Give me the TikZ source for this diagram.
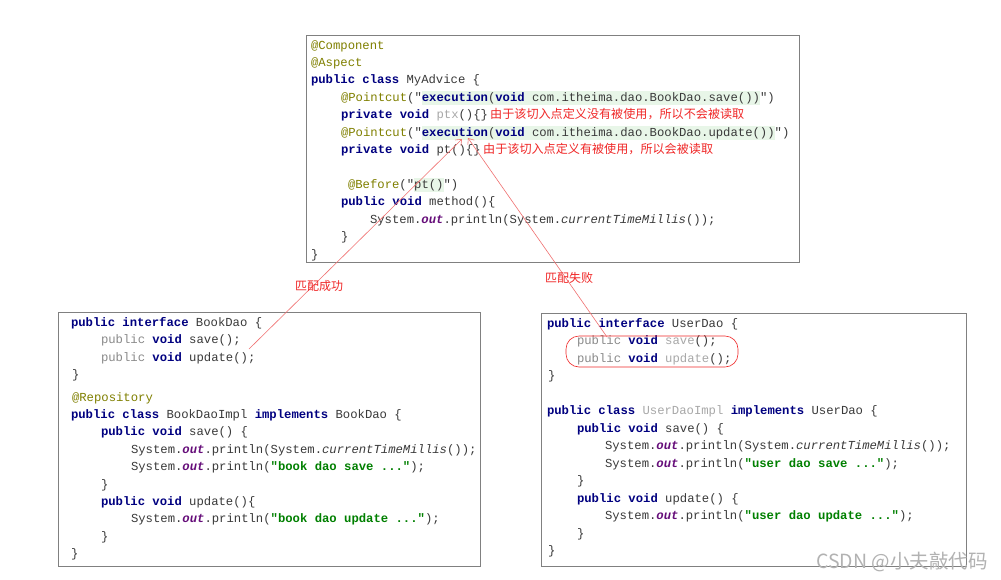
\documentclass[tikz,border=0pt]{standalone}
\usepackage{fontspec}
\usetikzlibrary{arrows.meta}
\newfontfamily\codefont[WordSpace={1,0,0}]{Liberation Mono}
\newfontfamily\cjk{Noto Sans CJK SC}
\definecolor{kwblue}{HTML}{000080}
\definecolor{annol}{HTML}{808000}
\definecolor{plain}{HTML}{3A3A3A}
\definecolor{modgray}{HTML}{8A8A8A}
\definecolor{unused}{HTML}{A8A8A8}
\definecolor{strgreen}{HTML}{008000}
\definecolor{outpurple}{HTML}{660E7A}
\definecolor{hlgreen}{HTML}{E8F6E8}
\definecolor{notered}{HTML}{F02828}
\definecolor{linered}{HTML}{F07070}
\definecolor{boxgray}{HTML}{808080}
\newcommand{\cdkw}[1]{{\bfseries\color{kwblue}#1}}
\newcommand{\cdann}[1]{{\color{annol}#1}}
\newcommand{\cdgr}[1]{{\color{modgray}#1}}
\newcommand{\cdun}[1]{{\color{unused}#1}}
\newcommand{\cdstr}[1]{{\bfseries\color{strgreen}#1}}
\newcommand{\cdout}{{\bfseries\itshape\color{outpurple}out}}
\newcommand{\cdtime}{System.\cdout.println(System.{\itshape currentTimeMillis}());}
\tikzset{
  code/.style={anchor=base west, inner sep=0pt, outer sep=0pt, text=plain,
    font=\codefont\fontsize{12.25}{17.4}\selectfont\frenchspacing},
  hl/.style={code, fill=hlgreen, text height=10pt, text depth=3.5pt},
  note/.style={anchor=base west, inner sep=0pt, text=notered, font=\cjk\fontsize{12.1}{14}\selectfont},
  lbl/.style={inner sep=0pt, text=notered, font=\cjk\fontsize{12}{14}\selectfont},
  codebox/.style={draw=boxgray, line width=0.9pt},
  conn/.style={draw=linered, line width=0.6pt, -{Straight Barb[length=5pt,width=8pt]}},
}
\begin{document}
\begin{tikzpicture}[x=1pt,y=-1pt]
\fill[white] (0,0) rectangle (1001,579);
\useasboundingbox (0,0) rectangle (1001,579);
% boxes
\draw[codebox] (306,35) rectangle (799,262);
\draw[codebox] (58,312) rectangle (480,566);
\draw[codebox] (541,313) rectangle (966,566);
% ---------------- top box
\node[code] (t0) at (311,49) {\cdann{@Component}};
\node[code] (t1) at (311,66.4) {\cdann{@Aspect}};
\node[code] (t2) at (311,83.9) {\cdkw{public class} MyAdvice \{};
\node[code] (t3a) at (341,101.3) {\cdann{@Pointcut}("};
\node[hl] (t3b) at (t3a.base east) {\cdkw{execution}(\cdkw{void} com.itheima.dao.BookDao.save())};
\node[code] (t3c) at (t3b.base east) {")};
\node[code] (t4) at (341,118.7) {\cdkw{private void} \cdun{ptx}()\{\}};
\node[note] (n1) at (490,118.7) {由于该切入点定义没有被使用，所以不会被读取};
\node[code] (t5a) at (341,136.2) {\cdann{@Pointcut}("};
\node[hl] (t5b) at (t5a.base east) {\cdkw{execution}(\cdkw{void} com.itheima.dao.BookDao.update())};
\node[code] (t5c) at (t5b.base east) {")};
\node[code] (t6) at (341,153.6) {\cdkw{private void} pt()\{\}};
\node[note] (n2) at (483,153.6) {由于该切入点定义有被使用，所以会被读取};
\node[code] (t8a) at (348,188.4) {\cdann{@Before}("};
\node[hl] (t8b) at (t8a.base east) {pt()};
\node[code] (t8c) at (t8b.base east) {")};
\node[code] (t9) at (341,205.8) {\cdkw{public void} method()\{};
\node[code] (t10) at (370,223.3) {\cdtime};
\node[code] (t11) at (341,240.7) {\}};
\node[code] (t12) at (311,258.1) {\}};
% ---------------- bottom-left box
\node[code] (a0) at (71,326) {\cdkw{public interface} BookDao \{};
\node[code] (a1) at (101,343.5) {\cdgr{public} \cdkw{void} save();};
\node[code] (a2) at (101,361) {\cdgr{public} \cdkw{void} update();};
\node[code] (a3) at (72,378.5) {\}};
\node[code] (b0) at (72,401) {\cdann{@Repository}};
\node[code] (b1) at (71,418.4) {\cdkw{public class} BookDaoImpl \cdkw{implements} BookDao \{};
\node[code] (b2) at (101,435.8) {\cdkw{public void} save() \{};
\node[code] (b3) at (131,453.2) {\cdtime};
\node[code] (b4) at (131,470.6) {System.\cdout.println(\cdstr{"book dao save ..."});};
\node[code] (b5) at (101,488) {\}};
\node[code] (b6) at (101,505.4) {\cdkw{public void} update()\{};
\node[code] (b7) at (131,522.8) {System.\cdout.println(\cdstr{"book dao update ..."});};
\node[code] (b8) at (101,540.2) {\}};
\node[code] (b9) at (71,557.6) {\}};
% ---------------- bottom-right box
\node[code] (c0) at (547,327) {\cdkw{public interface} UserDao \{};
\node[code] (c1) at (577,344.5) {\cdgr{public} \cdkw{void} \cdun{save}();};
\node[code] (c2) at (577,362) {\cdgr{public} \cdkw{void} \cdun{update}();};
\node[code] (c3) at (548,379.5) {\}};
\node[code] (c5) at (547,414.5) {\cdkw{public class} \cdun{UserDaoImpl} \cdkw{implements} UserDao \{};
\node[code] (c6) at (577,432) {\cdkw{public void} save() \{};
\node[code] (c7) at (605,449.5) {\cdtime};
\node[code] (c8) at (605,467) {System.\cdout.println(\cdstr{"user dao save ..."});};
\node[code] (c9) at (577,484.5) {\}};
\node[code] (c10) at (577,502) {\cdkw{public void} update() \{};
\node[code] (c11) at (605,519.5) {System.\cdout.println(\cdstr{"user dao update ..."});};
\node[code] (c12) at (577,537) {\}};
\node[code] (c13) at (548,554.5) {\}};
% red rounded frame
\draw[draw=notered, line width=0.6pt, rounded corners=13pt] (566,336) rectangle (738,367);
% connectors
\coordinate (srcA) at (249,349);
\coordinate (tipA) at (462,139);
\coordinate (srcB) at (607,337);
\coordinate (tipB) at (468,138);
\draw[conn] (srcA) -- (tipA);
\draw[conn] (srcB) -- (tipB);
\node[lbl] (l1) at (319,286) {匹配成功};
\node[lbl] (l2) at (569,278) {匹配失败};
% watermark
\node[anchor=base east, inner sep=0pt, text=black!30, font=\cjk\fontsize{19.5}{22}\selectfont] (wm) at (988,568) {CSDN @小夫敲代码};
\end{tikzpicture}
\end{document}
